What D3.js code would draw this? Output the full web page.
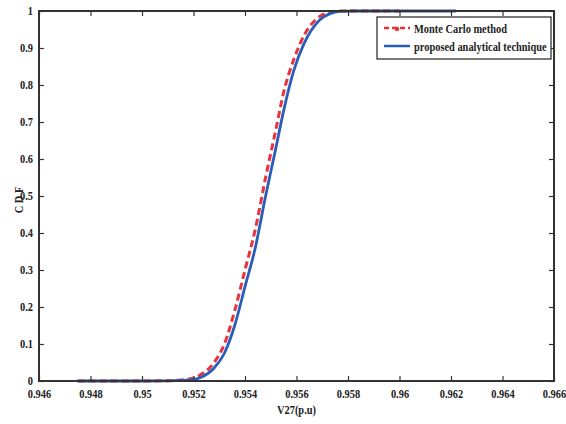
<!DOCTYPE html>
<html><head><meta charset="utf-8">
<script src="https://cdn.jsdelivr.net/npm/d3@7"></script>
<style>
body{margin:0;background:#fff;}
svg{display:block;}
text{font-family:"Liberation Serif","Times New Roman",serif;font-weight:bold;fill:#222;}
</style></head>
<body>
<svg id="chart" width="566" height="424"></svg>
<script>
// ---- data ----
const xTicks = [0.946,0.948,0.95,0.952,0.954,0.956,0.958,0.96,0.962,0.964,0.966];
const xTickLabels = ["0.946","0.948","0.95","0.952","0.954","0.956","0.958","0.96","0.962","0.964","0.966"];
const yTicks = [0,0.1,0.2,0.3,0.4,0.5,0.6,0.7,0.8,0.9,1];
const yTickLabels = ["0","0.1","0.2","0.3","0.4","0.5","0.6","0.7","0.8","0.9","1"];

const blueV   = [0.9475,0.9500,0.9510,0.9515,0.9520,0.9523,0.9528,0.9532,0.9536,0.9540,0.9544,0.9548,0.9552,0.9555,0.9559,0.9563,0.9569,0.9573,0.9577,0.9582,0.9600,0.9622];
const blueCDF = [0,     0,     0.0005,0.0015,0.004, 0.010, 0.035, 0.075, 0.15,  0.255, 0.36,  0.50,  0.63,  0.73,  0.84,  0.913, 0.976, 0.993, 0.999, 1,     1,     1];

const redV    = [0.9475,0.9500,0.9510,0.9515,0.9520,0.9523,0.9528,0.9532,0.9536,0.9540,0.9544,0.9548,0.9552,0.9555,0.9559,0.9563,0.9569,0.9573,0.9577,0.9582,0.9600];
const redCDF  = [0,     0,     0.001, 0.003, 0.008, 0.018, 0.05,  0.10,  0.19,  0.30,  0.41,  0.55,  0.68,  0.78,  0.87,  0.935, 0.985, 0.997, 1,     1,     1];

const seriesNames = ["Monte Carlo method","proposed analytical technique"];
const xLabel = "V27(p.u)";
const yLabel = "C D F";

// ---- layout ----
const svg = d3.select("#chart");
const L = 39, R = 554, T = 11, B = 381;
const x = d3.scaleLinear().domain([0.946,0.966]).range([L,R]);
const y = d3.scaleLinear().domain([0,1]).range([B,T]);
const axisColor = "#333";
const SX = 0.8;

const line = d3.line().x(d=>x(d[0])).y(d=>y(d[1])).curve(d3.curveMonotoneX);
const redData = redV.map((v,i)=>[v,redCDF[i]]);
const blueData = blueV.map((v,i)=>[v,blueCDF[i]]);

svg.append("path").datum(redData).attr("d",line)
  .attr("fill","none").attr("stroke","#e8323c").attr("stroke-width",3)
  .attr("stroke-dasharray","7,4");
svg.append("path").datum(blueData).attr("d",line)
  .attr("fill","none").attr("stroke","#2a5db8").attr("stroke-width",2.8);

// axes
const fmtX = (d,i)=>xTickLabels[i];
const fmtY = (d,i)=>yTickLabels[i];
function styleAxis(g){
  g.select(".domain").remove();
  g.selectAll(".tick line").attr("stroke",axisColor).attr("stroke-width",1.2);
}
const gx = svg.append("g").attr("transform",`translate(0,${B})`)
  .call(d3.axisBottom(x).tickValues(xTicks).tickFormat(fmtX).tickSize(-5).tickPadding(8));
styleAxis(gx);
gx.selectAll("text").attr("font-size",13).attr("transform",`scale(${SX},1)`).attr("fill","#222");

const gxt = svg.append("g").attr("transform",`translate(0,${T})`)
  .call(d3.axisTop(x).tickValues(xTicks).tickFormat("").tickSize(-5));
styleAxis(gxt);

const gy = svg.append("g").attr("transform",`translate(${L},0)`)
  .call(d3.axisLeft(y).tickValues(yTicks).tickFormat(fmtY).tickSize(-5));
styleAxis(gy);
gy.selectAll("text").attr("font-size",13).attr("x",-6/SX).attr("dy","0.28em")
  .attr("transform",`scale(${SX},1)`).attr("fill","#222");

const gyr = svg.append("g").attr("transform",`translate(${R},0)`)
  .call(d3.axisRight(y).tickValues(yTicks).tickFormat("").tickSize(-5));
styleAxis(gyr);

svg.append("rect").attr("x",L).attr("y",T).attr("width",R-L).attr("height",B-T)
  .attr("fill","none").attr("stroke",axisColor).attr("stroke-width",2);

// labels
svg.append("g").attr("transform",`translate(${(L+R)/2},414)`)
  .append("text").attr("text-anchor","middle").attr("font-size",13)
  .attr("transform",`scale(${SX},1)`).text(xLabel);
svg.append("g").attr("transform",`translate(23,200) rotate(-90)`)
  .append("text").attr("text-anchor","middle").attr("font-size",13)
  .attr("transform",`scale(${SX},1)`).text(yLabel);

// legend
const lg = svg.append("g");
lg.append("rect").attr("x",377).attr("y",17).attr("width",174).attr("height",42)
  .attr("fill","#fff").attr("stroke","#222").attr("stroke-width",1.2);
lg.append("line").attr("x1",384).attr("x2",410).attr("y1",28).attr("y2",28)
  .attr("stroke","#e8323c").attr("stroke-width",2.5).attr("stroke-dasharray","5,3");
lg.append("circle").attr("cx",397).attr("cy",29).attr("r",2.2).attr("fill","#e8323c");
lg.append("line").attr("x1",384).attr("x2",410).attr("y1",46).attr("y2",46)
  .attr("stroke","#2a5db8").attr("stroke-width",2.5);
lg.selectAll("text.leg").data(seriesNames).join("text").attr("class","leg")
  .attr("font-size",13).attr("transform",(d,i)=>`translate(414,${33+i*18}) scale(${SX},1)`)
  .text(d=>d);
</script>
</body></html>
